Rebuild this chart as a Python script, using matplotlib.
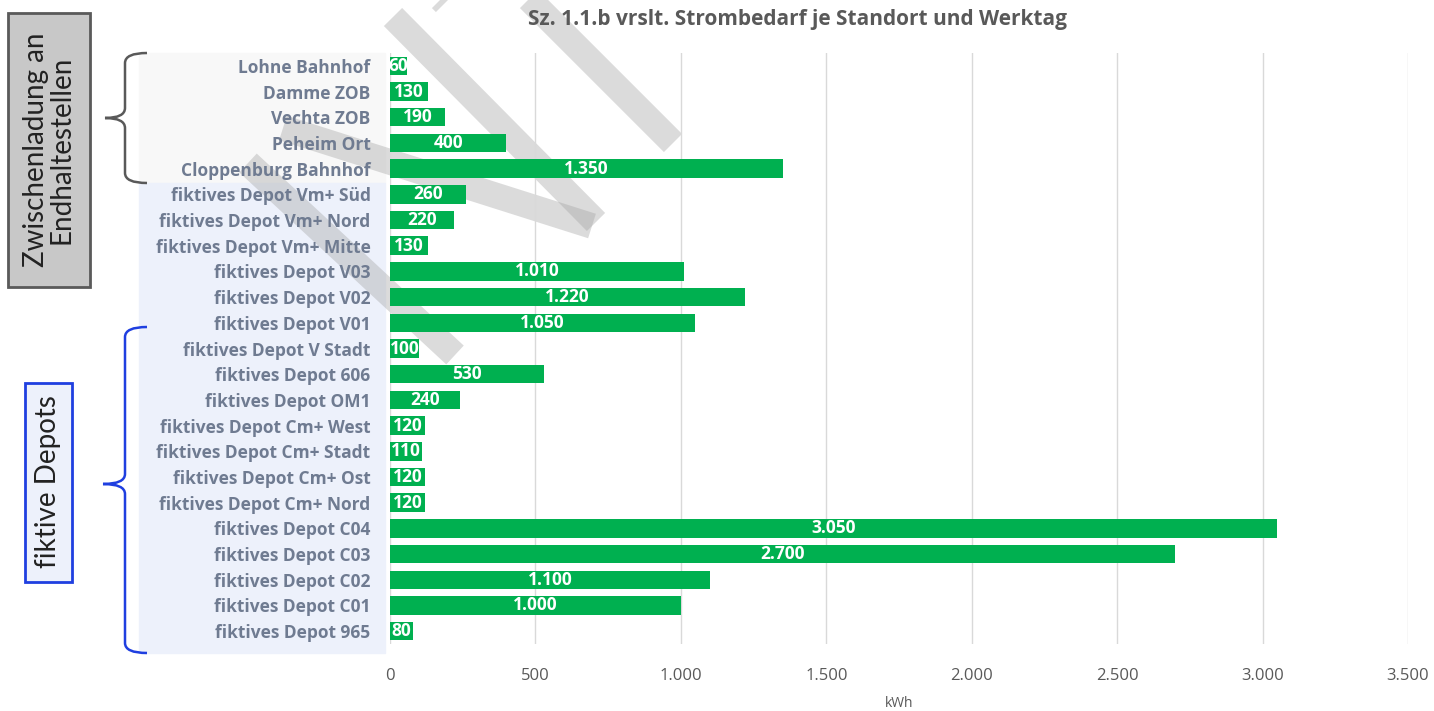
import numpy as np
import matplotlib.pyplot as plt
from matplotlib.path import Path
from matplotlib.patches import PathPatch, Rectangle
from matplotlib.lines import Line2D

plt.rcParams['font.family'] = ['Open Sans', 'DejaVu Sans']

standorte = ['Lohne Bahnhof', 'Damme ZOB', 'Vechta ZOB', 'Peheim Ort', 'Cloppenburg Bahnhof',
             'fiktives Depot Vm+ Süd', 'fiktives Depot Vm+ Nord', 'fiktives Depot Vm+ Mitte',
             'fiktives Depot V03', 'fiktives Depot V02', 'fiktives Depot V01',
             'fiktives Depot V Stadt', 'fiktives Depot 606', 'fiktives Depot OM1',
             'fiktives Depot Cm+ West', 'fiktives Depot Cm+ Stadt', 'fiktives Depot Cm+ Ost',
             'fiktives Depot Cm+ Nord', 'fiktives Depot C04', 'fiktives Depot C03',
             'fiktives Depot C02', 'fiktives Depot C01', 'fiktives Depot 965']
bedarf = [60, 130, 190, 400, 1350, 260, 220, 130, 1010, 1220, 1050, 100, 530, 240,
          120, 110, 120, 120, 3050, 2700, 1100, 1000, 80]
x_ticks = [0, 500, 1000, 1500, 2000, 2500, 3000, 3500]

W, H = 1434, 711

def fx(x):
    return x / W

def fy(y):
    return 1 - y / H

def tausend(v):
    return f'{v:,}'.replace(',', '.')

fig = plt.figure(figsize=(W / 100, H / 100), dpi=100)

# Hintergrund der Beschriftungen
fig.patches.append(Rectangle((fx(139), fy(183)), fx(385) - fx(139), fy(53) - fy(183),
                             transform=fig.transFigure, color='#f8f8f8', zorder=-3))
fig.patches.append(Rectangle((fx(139), fy(653)), fx(385) - fx(139), fy(183) - fy(653),
                             transform=fig.transFigure, color='#edf1fb', zorder=-3))

# Wasserzeichen (Reste eines großen, gedrehten Schriftzugs)
striche = [[(393, 17), (596, 222)],
           [(283, 128), (592, 226)],
           [(248, 163), (455, 355)],
           [(510, -20), (673, 143)],
           [(400, -42), (445, 3)]]
for s in striche:
    fig.lines.append(Line2D([fx(p[0]) for p in s], [fy(p[1]) for p in s],
                            transform=fig.transFigure, color='#a6a6a6', alpha=0.4,
                            lw=18.5, solid_capstyle='butt', zorder=-2))

ax = fig.add_axes([fx(390), fy(644), fx(1408) - fx(390), fy(53) - fy(644)])
ax.set_facecolor('none')
n = len(standorte)
y = np.arange(n)
bars = ax.barh(y, bedarf, height=0.72, color='#00b050', zorder=3)
for b, v in zip(bars, bedarf):
    ax.text(b.get_width() / 2, b.get_y() + b.get_height() / 2, tausend(v),
            ha='center', va='center', color='white', fontsize=12.5, fontweight='bold', zorder=4)

ax.set_ylim(n - 0.5, -0.5)
ax.set_xlim(0, 3500)
ax.set_yticks(y)
ax.set_yticklabels(standorte, fontsize=12.5, fontweight='bold', color='#6f7b91')
ax.set_xticks(x_ticks)
ax.set_xticklabels([tausend(t) for t in x_ticks], fontsize=12, color='#595959')
ax.tick_params(axis='both', length=0)
ax.tick_params(axis='x', pad=17)
ax.tick_params(axis='y', pad=14)
ax.grid(axis='x', color='#d9d9d9', lw=1, zorder=0)
for s in ax.spines.values():
    s.set_visible(False)
ax.set_xlabel('kWh', fontsize=10, color='#595959', labelpad=9)

fig.text(fx(798), fy(20), 'Sz. 1.1.b vrslt. Strombedarf je Standort und Werktag',
         ha='center', va='center', fontsize=15, fontweight='bold', color='#595959')

# geschweifte Klammern
def klammer(x_end, x_mid, x_tip, y_top, y_bot, y_mid, farbe):
    r = 10
    pts = [(x_end, y_top), (x_mid, y_top), (x_mid, y_top + r),
           (x_mid, y_mid - r),
           (x_mid, y_mid), (x_tip, y_mid),
           (x_mid, y_mid), (x_mid, y_mid + r),
           (x_mid, y_bot - r),
           (x_mid, y_bot), (x_end, y_bot)]
    codes = [Path.MOVETO, Path.CURVE3, Path.CURVE3, Path.LINETO,
             Path.CURVE3, Path.CURVE3, Path.CURVE3, Path.CURVE3,
             Path.LINETO, Path.CURVE3, Path.CURVE3]
    p = Path([(fx(a), fy(b)) for a, b in pts], codes)
    fig.patches.append(PathPatch(p, transform=fig.transFigure, fill=False,
                                 edgecolor=farbe, lw=1.8))

klammer(147, 125, 105, 53, 183, 118, '#595959')
klammer(147, 125, 103, 327, 653, 484, '#1f3fe0')

# Gruppenboxen
fig.patches.append(Rectangle((fx(8), fy(287)), fx(90) - fx(8), fy(13) - fy(287),
                             transform=fig.transFigure, facecolor='#c8c8c8',
                             edgecolor='#5a5a5a', lw=2))
fig.text(fx(49), fy(150), 'Zwischenladung an\nEndhaltestellen', rotation=90,
         ha='center', va='center', fontsize=20, color='#222222', linespacing=1.0,
         family=['Lato', 'DejaVu Sans'])
fig.patches.append(Rectangle((fx(25), fy(582)), fx(72) - fx(25), fy(383) - fy(582),
                             transform=fig.transFigure, facecolor='#edf1fb',
                             edgecolor='#1f3fe0', lw=2))
fig.text(fx(48.5), fy(482), 'fiktive Depots', rotation=90,
         ha='center', va='center', fontsize=20, color='#222222',
         family=['Lato', 'DejaVu Sans'])

fig.savefig('out.png', dpi=100)
